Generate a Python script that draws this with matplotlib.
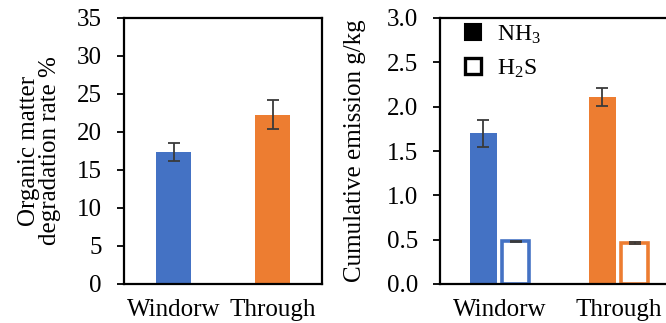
import matplotlib
matplotlib.use("Agg")
import matplotlib.pyplot as plt
from matplotlib.patches import Patch
import numpy as np

plt.rcParams['font.family'] = ['Liberation Serif', 'DejaVu Serif']
plt.rcParams['mathtext.fontset'] = 'custom'
plt.rcParams['mathtext.rm'] = 'Liberation Serif'
plt.rcParams['mathtext.it'] = 'Liberation Serif:italic'

categories = ["Windorw", "Through"]
degradation = [17.4, 22.3]
degradation_err = [1.15, 1.85]
nh3 = [1.70, 2.11]
nh3_err = [0.15, 0.10]
h2s = [0.48, 0.46]
h2s_err = [0.01, 0.01]
colors = ["#4472C4", "#ED7D31"]

W, H = 666, 323
fig = plt.figure(figsize=(W / 100, H / 100), dpi=100)

ax1 = fig.add_axes([124 / W, 39 / H, 198 / W, 266 / H])
ax2 = fig.add_axes([440 / W, 39 / H, 238 / W, 266 / H])

x = np.arange(len(categories))
ekw = dict(ecolor="#3a3a3a", elinewidth=1.3, capsize=4, capthick=1.3)

ax1.bar(x, degradation, width=0.355, color=colors, yerr=degradation_err,
        error_kw=ekw, zorder=2)
ax1.set_xlim(-0.5, 1.5)
ax1.set_ylim(0, 35)
ax1.set_yticks(np.arange(0, 36, 5))
ax1.set_ylabel("Organic matter\ndegradation rate %", fontsize=18, labelpad=11,
               linespacing=0.95)
ax1.set_xticks(x)
ax1.set_xticklabels(categories, fontsize=18)

off = 0.135
bw = 0.22
ax2.bar(x - off, nh3, width=bw, color=colors, yerr=nh3_err, error_kw=ekw, zorder=2)
for i in range(len(categories)):
    ax2.bar(x[i] + off, h2s[i], width=bw, facecolor="white", edgecolor=colors[i],
            linewidth=2.6, yerr=h2s_err[i], error_kw=ekw, zorder=2)
ax2.set_xlim(-0.5, 1.5)
ax2.set_ylim(0, 3.0)
ax2.set_yticks(np.arange(0, 3.01, 0.5))
ax2.set_yticklabels([f"{v:.1f}" for v in np.arange(0, 3.01, 0.5)])
ax2.set_ylabel("Cumulative emission g/kg", fontsize=18, labelpad=15)
ax2.set_xticks(x)
ax2.set_xticklabels(categories, fontsize=18)

handles = [Patch(facecolor="black", edgecolor="black", linewidth=1.5),
           Patch(facecolor="white", edgecolor="black", linewidth=2.4)]
ax2.legend(handles, [r"NH$_3$", r"H$_2$S"], loc="upper left", frameon=False,
           fontsize=17, handlelength=0.68, handleheight=0.68, handletextpad=0.7,
           borderaxespad=0.0, labelspacing=0.5, bbox_to_anchor=(0.065, 1.015))

for ax in (ax1, ax2):
    for s in ax.spines.values():
        s.set_linewidth(1.6)
        s.set_color("black")
    ax.tick_params(axis="y", direction="out", length=5, width=1.3, labelsize=18, pad=11)
    ax.tick_params(axis="x", length=0, pad=11)

fig.savefig("out.png", dpi=100)
